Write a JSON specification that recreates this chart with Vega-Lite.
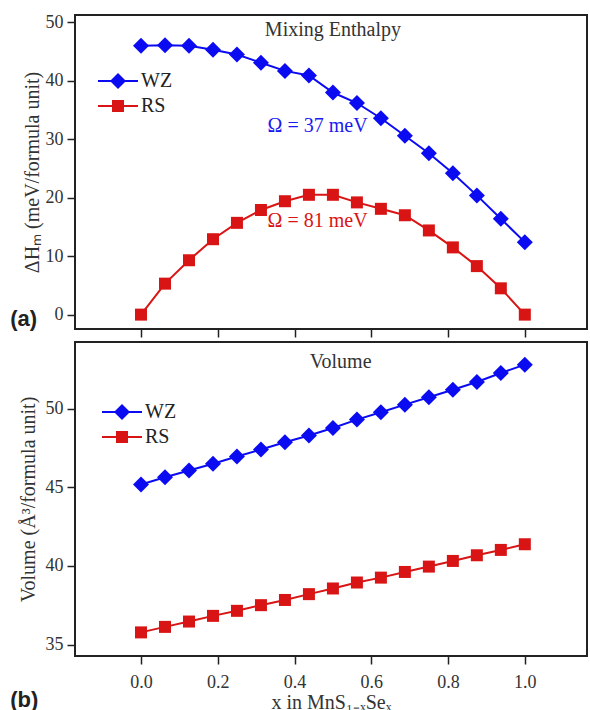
{
  "$schema": "https://vega.github.io/schema/vega-lite/v6.json",
  "background": "white",
  "padding": {"left": 9, "top": 12, "right": 0, "bottom": 0},
  "spacing": 2,
  "config": {
    "font": "Liberation Serif",
    "view": {"stroke": "#222", "strokeWidth": 2},
    "axis": {"labelFont": "Liberation Serif", "titleFont": "Liberation Serif", "labelFontSize": 18, "titleFontSize": 20, "labelColor": "#333", "titleColor": "#333", "titleFontWeight": "normal", "domain": false, "grid": false, "tickColor": "#222", "tickWidth": 1.5, "tickSize": 8, "labelPadding": 4},
    "legend": {"labelFont": "Liberation Serif", "labelFontSize": 20, "labelColor": "#222", "symbolSize": 256, "labelOffset": 13, "rowPadding": 5, "padding": 0, "symbolStrokeWidth": 2}
  },
  "datasets": {
    "d": [
      {"x": 0, "phase": "WZ", "dH": 46.0, "vol": 45.18},
      {"x": 0.0625, "phase": "WZ", "dH": 46.1, "vol": 45.64},
      {"x": 0.125, "phase": "WZ", "dH": 46.0, "vol": 46.07},
      {"x": 0.1875, "phase": "WZ", "dH": 45.3, "vol": 46.49},
      {"x": 0.25, "phase": "WZ", "dH": 44.5, "vol": 46.96},
      {"x": 0.3125, "phase": "WZ", "dH": 43.1, "vol": 47.40},
      {"x": 0.375, "phase": "WZ", "dH": 41.7, "vol": 47.86},
      {"x": 0.4375, "phase": "WZ", "dH": 40.9, "vol": 48.29},
      {"x": 0.5, "phase": "WZ", "dH": 38.0, "vol": 48.77},
      {"x": 0.5625, "phase": "WZ", "dH": 36.2, "vol": 49.30},
      {"x": 0.625, "phase": "WZ", "dH": 33.6, "vol": 49.77},
      {"x": 0.6875, "phase": "WZ", "dH": 30.6, "vol": 50.25},
      {"x": 0.75, "phase": "WZ", "dH": 27.6, "vol": 50.72},
      {"x": 0.8125, "phase": "WZ", "dH": 24.2, "vol": 51.20},
      {"x": 0.875, "phase": "WZ", "dH": 20.4, "vol": 51.69},
      {"x": 0.9375, "phase": "WZ", "dH": 16.4, "vol": 52.26},
      {"x": 1, "phase": "WZ", "dH": 12.4, "vol": 52.79},
      {"x": 0, "phase": "RS", "dH": 0.0, "vol": 35.78},
      {"x": 0.0625, "phase": "RS", "dH": 5.3, "vol": 36.13},
      {"x": 0.125, "phase": "RS", "dH": 9.3, "vol": 36.47},
      {"x": 0.1875, "phase": "RS", "dH": 12.9, "vol": 36.83},
      {"x": 0.25, "phase": "RS", "dH": 15.7, "vol": 37.15},
      {"x": 0.3125, "phase": "RS", "dH": 17.9, "vol": 37.51},
      {"x": 0.375, "phase": "RS", "dH": 19.4, "vol": 37.84},
      {"x": 0.4375, "phase": "RS", "dH": 20.5, "vol": 38.21},
      {"x": 0.5, "phase": "RS", "dH": 20.5, "vol": 38.57},
      {"x": 0.5625, "phase": "RS", "dH": 19.2, "vol": 38.95},
      {"x": 0.625, "phase": "RS", "dH": 18.1, "vol": 39.26},
      {"x": 0.6875, "phase": "RS", "dH": 17.0, "vol": 39.62},
      {"x": 0.75, "phase": "RS", "dH": 14.4, "vol": 39.96},
      {"x": 0.8125, "phase": "RS", "dH": 11.5, "vol": 40.32},
      {"x": 0.875, "phase": "RS", "dH": 8.3, "vol": 40.68},
      {"x": 0.9375, "phase": "RS", "dH": 4.5, "vol": 41.02},
      {"x": 1, "phase": "RS", "dH": 0.0, "vol": 41.38}
    ]
  },
  "vconcat": [
    {
      "width": 512,
      "height": 314,
      "layer": [
        {
          "data": {"name": "d"},
          "mark": {"type": "line", "strokeWidth": 2},
          "encoding": {
            "x": {"field": "x", "type": "quantitative", "scale": {"domain": [-0.172, 1.162], "nice": false, "zero": false}, "axis": {"values": [0, 0.2, 0.4, 0.6, 0.8, 1], "labels": false, "title": null}},
            "y": {"field": "dH", "type": "quantitative", "scale": {"domain": [-2.46, 51.26], "nice": false}, "axis": {"values": [0, 10, 20, 30, 40, 50], "title": "ΔHₘ (meV/formula unit)", "titlePadding": 3}},
            "color": {"field": "phase", "type": "nominal", "scale": {"domain": ["WZ", "RS"], "range": ["#0b0bf2", "#d91414"]},
              "legend": {"title": null, "orient": "none", "legendX": 33, "legendY": 56,
                "encode": {"symbols": {"update": {
                  "shape": {"signal": "datum.value === 'WZ' ? 'M-2.5,-0.13H2.5V0.13H-2.5ZM0,-1L1,0L0,1L-1,0Z' : 'M-2.5,-0.13H2.5V0.13H-2.5ZM-0.75,-0.75H0.75V0.75H-0.75Z'"},
                  "fill": {"signal": "datum.value === 'WZ' ? '#0b0bf2' : '#d91414'"},
                  "strokeWidth": {"value": 0},
                  "opacity": {"value": 1}
                }}}}}
          }
        },
        {
          "data": {"name": "d"},
          "transform": [{"filter": "datum.phase === 'WZ'"}],
          "mark": {"type": "point", "filled": true, "opacity": 1, "size": 256, "shape": "diamond"},
          "encoding": {
            "x": {"field": "x", "type": "quantitative"},
            "y": {"field": "dH", "type": "quantitative"},
            "color": {"field": "phase", "type": "nominal"}
          }
        },
        {
          "data": {"name": "d"},
          "transform": [{"filter": "datum.phase === 'RS'"}],
          "mark": {"type": "point", "filled": true, "opacity": 1, "size": 256, "shape": "M-0.75,-0.75H0.75V0.75H-0.75Z"},
          "encoding": {
            "x": {"field": "x", "type": "quantitative"},
            "y": {"field": "dH", "type": "quantitative"},
            "color": {"field": "phase", "type": "nominal"}
          }
        },
        {
          "data": {"values": [{}]},
          "mark": {"type": "text", "font": "Liberation Serif", "fontSize": 20, "color": "#333"},
          "encoding": {"x": {"datum": 0.5}, "y": {"datum": 48.75}, "text": {"value": "Mixing Enthalpy"}}
        },
        {
          "data": {"values": [{}]},
          "mark": {"type": "text", "font": "Liberation Serif", "fontSize": 20, "color": "#1a1af0"},
          "encoding": {"x": {"datum": 0.46}, "y": {"datum": 32.3}, "text": {"value": "Ω = 37 meV"}}
        },
        {
          "data": {"values": [{}]},
          "mark": {"type": "text", "font": "Liberation Serif", "fontSize": 20, "color": "#d91414"},
          "encoding": {"x": {"datum": 0.46}, "y": {"datum": 16.1}, "text": {"value": "Ω = 81 meV"}}
        },
        {
          "data": {"values": [{}]},
          "mark": {"type": "text", "font": "Liberation Sans", "fontWeight": "bold", "fontSize": 22, "color": "#222"},
          "encoding": {"x": {"datum": -0.306}, "y": {"datum": -0.8}, "text": {"value": "(a)"}}
        }
      ]
    },
    {
      "width": 512,
      "height": 314,
      "layer": [
        {
          "data": {"name": "d"},
          "mark": {"type": "line", "strokeWidth": 2},
          "encoding": {
            "x": {"field": "x", "type": "quantitative", "scale": {"domain": [-0.172, 1.162], "nice": false, "zero": false}, "axis": {"values": [0, 0.2, 0.4, 0.6, 0.8, 1], "format": ".1f", "title": "x in MnS₁₋ₓSeₓ", "labelPadding": 9, "titlePadding": 1}},
            "y": {"field": "vol", "type": "quantitative", "scale": {"domain": [34.28, 54.23], "nice": false, "zero": false}, "axis": {"values": [35, 40, 45, 50], "title": "Volume (Å³/formula unit)", "titlePadding": 7}},
            "color": {"field": "phase", "type": "nominal", "scale": {"domain": ["WZ", "RS"], "range": ["#0b0bf2", "#d91414"]},
              "legend": {"title": null, "orient": "none", "legendX": 37, "legendY": 60,
                "encode": {"symbols": {"update": {
                  "shape": {"signal": "datum.value === 'WZ' ? 'M-2.5,-0.13H2.5V0.13H-2.5ZM0,-1L1,0L0,1L-1,0Z' : 'M-2.5,-0.13H2.5V0.13H-2.5ZM-0.75,-0.75H0.75V0.75H-0.75Z'"},
                  "fill": {"signal": "datum.value === 'WZ' ? '#0b0bf2' : '#d91414'"},
                  "strokeWidth": {"value": 0},
                  "opacity": {"value": 1}
                }}}}}
          }
        },
        {
          "data": {"name": "d"},
          "transform": [{"filter": "datum.phase === 'WZ'"}],
          "mark": {"type": "point", "filled": true, "opacity": 1, "size": 256, "shape": "diamond"},
          "encoding": {
            "x": {"field": "x", "type": "quantitative"},
            "y": {"field": "vol", "type": "quantitative"},
            "color": {"field": "phase", "type": "nominal"}
          }
        },
        {
          "data": {"name": "d"},
          "transform": [{"filter": "datum.phase === 'RS'"}],
          "mark": {"type": "point", "filled": true, "opacity": 1, "size": 256, "shape": "M-0.75,-0.75H0.75V0.75H-0.75Z"},
          "encoding": {
            "x": {"field": "x", "type": "quantitative"},
            "y": {"field": "vol", "type": "quantitative"},
            "color": {"field": "phase", "type": "nominal"}
          }
        },
        {
          "data": {"values": [{}]},
          "mark": {"type": "text", "font": "Liberation Serif", "fontSize": 20, "color": "#333"},
          "encoding": {"x": {"datum": 0.52}, "y": {"datum": 52.98}, "text": {"value": "Volume"}}
        },
        {
          "data": {"values": [{}]},
          "mark": {"type": "text", "font": "Liberation Sans", "fontWeight": "bold", "fontSize": 22, "color": "#222"},
          "encoding": {"x": {"datum": -0.304}, "y": {"datum": 31.5}, "text": {"value": "(b)"}}
        }
      ]
    }
  ],
  "resolve": {"scale": {"color": "independent"}, "legend": {"color": "independent"}}
}
